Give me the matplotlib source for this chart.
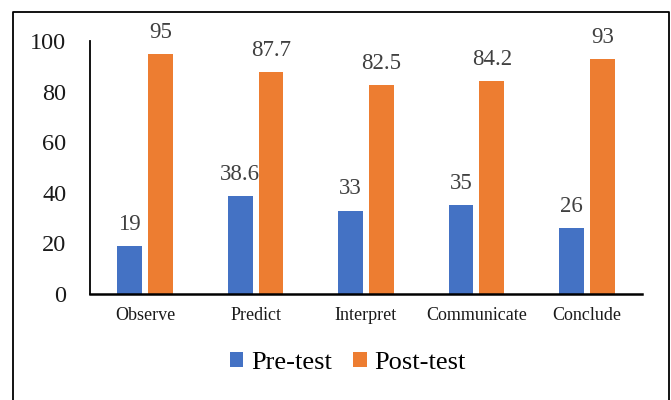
import matplotlib
matplotlib.use("Agg")
import matplotlib.pyplot as plt
import numpy as np
from matplotlib.patches import Patch
from matplotlib.lines import Line2D

categories = ["Observe", "Predict", "Interpret", "Communicate", "Conclude"]
pre_test = [19, 38.6, 33, 35, 26]
post_test = [95, 87.7, 82.5, 84.2, 93]
pre_labels = ["19", "38.6", "33", "35", "26"]
post_labels = ["95", "87.7", "82.5", "84.2", "93"]
y_ticks = [0, 20, 40, 60, 80, 100]

plt.rcParams["font.family"] = ["Liberation Serif", "DejaVu Serif"]

BLUE = "#4472C4"
ORANGE = "#ED7D31"

fig = plt.figure(figsize=(6.71, 4.0), dpi=100)
ax = fig.add_axes([90 / 671, 1 - 294 / 400, (642 - 90) / 671, (294 - 41) / 400])

x = np.arange(len(categories))
w = 0.225
off = 0.14
b1 = ax.bar(x - off, pre_test, w, color=BLUE, zorder=2)
b2 = ax.bar(x + off, post_test, w, color=ORANGE, zorder=2)

ax.bar_label(b1, labels=pre_labels, padding=8, fontsize=16.5, color="#404040")
ax.bar_label(b2, labels=post_labels, padding=8, fontsize=16.5, color="#404040")

ax.set_xlim(-0.5, len(categories) - 0.5)
ax.set_ylim(0, 100)
ax.set_yticks(y_ticks)
ax.set_xticks(x)
ax.set_xticklabels(categories, fontsize=13, color="#1a1a1a")
ax.tick_params(axis="y", length=0, pad=17, labelsize=17.5, labelcolor="#1a1a1a")
ax.tick_params(axis="x", length=0, pad=9)

for s in ["top", "right"]:
    ax.spines[s].set_visible(False)
ax.spines["left"].set_linewidth(1.3)
ax.spines["bottom"].set_linewidth(1.8)
ax.spines["left"].set_color("black")
ax.spines["bottom"].set_color("black")

handles = [Patch(facecolor=BLUE, label="Pre-test"), Patch(facecolor=ORANGE, label="Post-test")]
fig.legend(handles=handles, loc="center", bbox_to_anchor=(348 / 671, 1 - 363 / 400),
           ncol=2, frameon=False, fontsize=19, handlelength=0.5, handleheight=0.5,
           handletextpad=0.3, columnspacing=0.8)

# outer chart border (left, top, right)
L, T, R = 12.5 / 671, 1 - 11.5 / 400, 669.3 / 671
border = Line2D([L, L, R, R], [-0.05, T, T, -0.05], transform=fig.transFigure,
                color="black", linewidth=1.3, clip_on=False)
fig.add_artist(border)

fig.savefig("out.png", dpi=100)
